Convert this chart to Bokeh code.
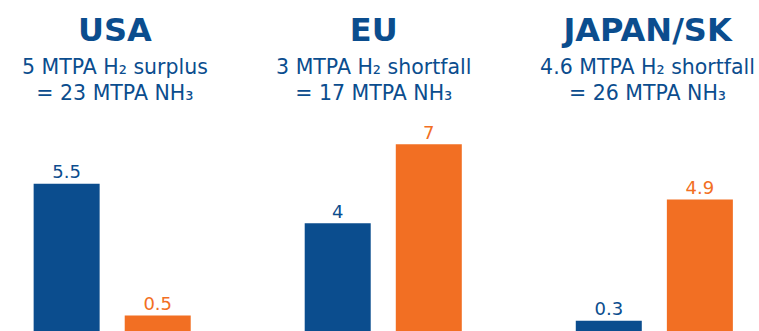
from bokeh.plotting import figure
from bokeh.models import ColumnDataSource, Range1d
from bokeh.core.properties import value
from bokeh.embed import file_html
from bokeh.resources import INLINE

# ---- data ----
regions = ["USA", "EU", "JAPAN/SK"]
subtitle_line1 = ["5 MTPA H₂ surplus", "3 MTPA H₂ shortfall", "4.6 MTPA H₂ shortfall"]
subtitle_line2 = ["= 23 MTPA NH₃", "= 17 MTPA NH₃", "= 26 MTPA NH₃"]
blue_values = [5.5, 4, 0.3]
orange_values = [0.5, 7, 4.9]
blue_labels = ["5.5", "4", "0.3"]
orange_labels = ["0.5", "7", "4.9"]

# ---- style ----
BLUE = "#0B4D8E"
ORANGE = "#F26F23"
FONT = "DejaVu Sans"
group_pos = list(range(len(regions)))
bar_offset = 0.168
bar_width = 0.2435
text_shift = [0.01, -0.035, -0.025]

p = figure(width=759, height=331, output_backend="svg", toolbar_location=None,
           x_range=Range1d(-0.412, 2.388), y_range=Range1d(-0.11, 12.45),
           min_border=0, outline_line_color=None, background_fill_color="white",
           border_fill_color="white")
p.axis.visible = False
p.grid.visible = False

blue_src = ColumnDataSource(dict(x=[g - bar_offset for g in group_pos], top=blue_values,
                                 lab=blue_labels))
orange_src = ColumnDataSource(dict(x=[g + bar_offset for g in group_pos], top=orange_values,
                                   lab=orange_labels))

for src, col in ((blue_src, BLUE), (orange_src, ORANGE)):
    p.vbar(x="x", top="top", bottom=-1, width=bar_width, source=src,
           fill_color=col, line_color=None)
    p.text(x="x", y="top", text="lab", source=src, text_align="center",
           text_baseline="alphabetic", y_offset=-12, text_color=col, text_font=value(FONT),
           text_font_size="18px", text_font_style="normal")

tx = [g + s for g, s in zip(group_pos, text_shift)]
p.text(x=tx, y=[10.9] * 3, text=regions, y_offset=-11, text_align="center",
       text_baseline="alphabetic", text_color=BLUE, text_font=value(FONT),
       text_font_size="32px", text_font_style="bold")
p.text(x=tx, y=[9.64] * 3, text=subtitle_line1, y_offset=-8, text_align="center",
       text_baseline="alphabetic", text_color=BLUE, text_font=value(FONT),
       text_font_size="20.5px", text_font_style="normal")
p.text(x=tx, y=[8.62] * 3, text=subtitle_line2, y_offset=-8, text_align="center",
       text_baseline="alphabetic", text_color=BLUE, text_font=value(FONT),
       text_font_size="20.5px", text_font_style="normal")

open("out.html", "w").write(file_html(p, INLINE))
